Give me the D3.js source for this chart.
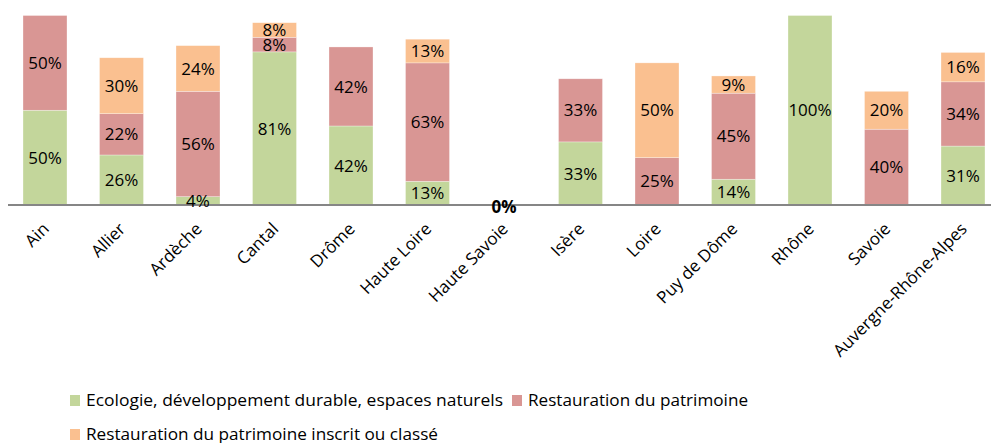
<!DOCTYPE html>
<html>
<head>
<meta charset="utf-8">
<script src="https://cdn.jsdelivr.net/npm/d3@7"></script>
<style>
  html, body { margin: 0; padding: 0; background: #fff; }
  svg { display: block; font-family: "Open Sans", sans-serif; }
</style>
</head>
<body>
<svg id="chart" width="991" height="443"></svg>
<script>
const categories = ["Ain","Allier","Ardèche","Cantal","Drôme","Haute Loire","Haute Savoie","Isère","Loire","Puy de Dôme","Rhône","Savoie","Auvergne-Rhône-Alpes"];
const ecologie     = [50, 26.4, 4.4, 80.8, 41.7, 12.5, 0,    33.3, null, 13.6, 100,  null, 31.1];
const restauration = [50, 21.8, 55.6, 7.7, 41.7, 62.5, null, 33.3, 25,   45.4, null, 40,   33.9];
const inscrit      = [null, 29.5, 24.1, 7.7, null, 12.5, null, null, 50,  9.1,  null, 20,   15.5];
const seriesNames  = ["Ecologie, développement durable, espaces naturels", "Restauration du patrimoine", "Restauration du patrimoine inscrit ou classé"];
const seriesColors = ["#C3D69B", "#D99694", "#FAC090"];
const seriesValues = [ecologie, restauration, inscrit];

const svg = d3.select("#chart");
const x = d3.scaleBand().domain(categories).range([6.75, 1001.25]).paddingInner(0.425).paddingOuter(0.2125);
const y = d3.scaleLinear().domain([0, 100]).range([205, 15.5]);

// build stacked segments
const segs = [];
categories.forEach((c, i) => {
  let acc = 0;
  seriesValues.forEach((vals, s) => {
    const v = vals[i];
    if (v === null) return;
    segs.push({cat: c, s, y0: acc, y1: acc + v, v});
    acc += v;
  });
});

svg.append("g").selectAll("rect").data(segs.filter(d => d.v > 0)).join("rect")
  .attr("x", d => x(d.cat))
  .attr("width", x.bandwidth())
  .attr("y", d => y(d.y1))
  .attr("height", d => y(d.y0) - y(d.y1))
  .attr("fill", d => seriesColors[d.s])
  .attr("stroke", "#fff")
  .attr("stroke-opacity", 0.5)
  .attr("stroke-width", 0.6);

// axis
const axis = d3.axisBottom(x).tickSize(0).tickFormat("");
const gx = svg.append("g").attr("transform", "translate(0,205)").call(axis);
gx.select(".domain").remove();
svg.append("line").attr("x1", 8).attr("x2", 991).attr("y1", 205).attr("y2", 205)
  .attr("stroke", "#868686").attr("stroke-width", 2);

// category labels
svg.append("g").selectAll("text").data(categories).join("text")
  .attr("transform", d => `translate(${x(d) + x.bandwidth()/2 + 5},230) rotate(-45)`)
  .attr("text-anchor", "end")
  .attr("font-size", 17)
  .attr("fill", "#000")
  .text(d => d);

// data labels
svg.append("g").selectAll("text").data(segs).join("text")
  .attr("x", d => x(d.cat) + x.bandwidth()/2)
  .attr("y", d => (y(d.y0) + y(d.y1)) / 2 + (d.v === 0 ? 2 : 0))
  .attr("dy", "0.36em")
  .attr("text-anchor", "middle")
  .attr("font-size", 17)
  .attr("font-weight", d => d.v === 0 ? "bold" : "normal")
  .attr("fill", "#000")
  .text(d => Math.round(d.v) + "%");

// legend
const legendPos = [
  {kx: 70, ky: 395, tx: 86, ty: 406, w: 417},
  {kx: 512, ky: 395, tx: 528, ty: 406, w: 220},
  {kx: 70, ky: 429, tx: 86, ty: 440, w: 352}
];
const lg = svg.append("g");
seriesNames.forEach((n, i) => {
  const p = legendPos[i];
  lg.append("rect").attr("x", p.kx).attr("y", p.ky).attr("width", 10).attr("height", 11).attr("fill", seriesColors[i]);
  lg.append("text").attr("x", p.tx).attr("y", p.ty).attr("font-size", 15.5).attr("fill", "#000")
    .attr("textLength", p.w).attr("lengthAdjust", "spacingAndGlyphs").text(n);
});
</script>
</body>
</html>
